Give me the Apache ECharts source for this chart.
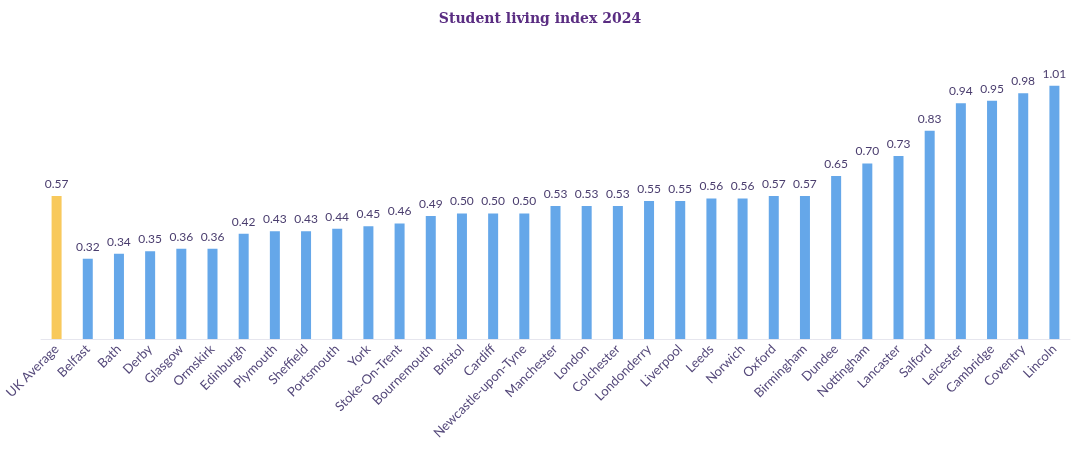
<!DOCTYPE html>
<html>
<head>
<meta charset="utf-8">
<script src="https://cdn.jsdelivr.net/npm/echarts@6/dist/echarts.min.js"></script>
<style>
html,body{margin:0;padding:0;background:#fff}
#chart{width:1080px;height:451px}
</style>
</head>
<body>
<div id="chart"></div>
<script>
// student living index per city
var cities = ['UK Average','Belfast','Bath','Derby','Glasgow','Ormskirk','Edinburgh','Plymouth','Sheffield','Portsmouth','York','Stoke-On-Trent','Bournemouth','Bristol','Cardiff','Newcastle-upon-Tyne','Manchester','London','Colchester','Londonderry','Liverpool','Leeds','Norwich','Oxford','Birmingham','Dundee','Nottingham','Lancaster','Salford','Leicester','Cambridge','Coventry','Lincoln'];
var index2024 = [0.57,0.32,0.34,0.35,0.36,0.36,0.42,0.43,0.43,0.44,0.45,0.46,0.49,0.50,0.50,0.50,0.53,0.53,0.53,0.55,0.55,0.56,0.56,0.57,0.57,0.65,0.70,0.73,0.83,0.94,0.95,0.98,1.01];

var chart = echarts.init(document.getElementById('chart'))

var barData = index2024.map(function(v, i){
	return {
		value: v,
		itemStyle: { color: i == 0 ? '#f8c95c' : '#65a7e9' }
	}
})

var option = {
	animation: false,
	title: {
		text: 'Student living index 2024',
		left: 'center',
		top: 7,
		textStyle: { fontFamily: 'DejaVu Serif', fontWeight: 'bold', fontSize: 14, color: '#5a2d82' }
	},
	grid: { left: 41, right: 10, top: 38, bottom: 112 },
	xAxis: {
		type: 'category',
		data: cities,
		axisLine: { lineStyle: { color: '#e6e6ee' } },
		axisTick: { show: false },
		axisLabel: {
			rotate: 45,
			interval: 0,
			fontFamily: 'Lato',
			fontSize: 13,
			color: '#54487a',
			margin: 8
		}
	},
	yAxis: {
		type: 'value',
		min: 0,
		max: 1.2,
		show: false,
		splitLine: { show: false }
	},
	series: [{
		type: 'bar',
		data: barData,
		barWidth: 10,
		label: {
			show: true,
			position: 'top',
			distance: 6,
			fontFamily: 'Lato',
			fontSize: 12,
			color: '#4a3d6e',
			formatter: function(p){ return p.value.toFixed(2) }
		}
	}]
}
chart.setOption(option)
</script>
</body>
</html>
